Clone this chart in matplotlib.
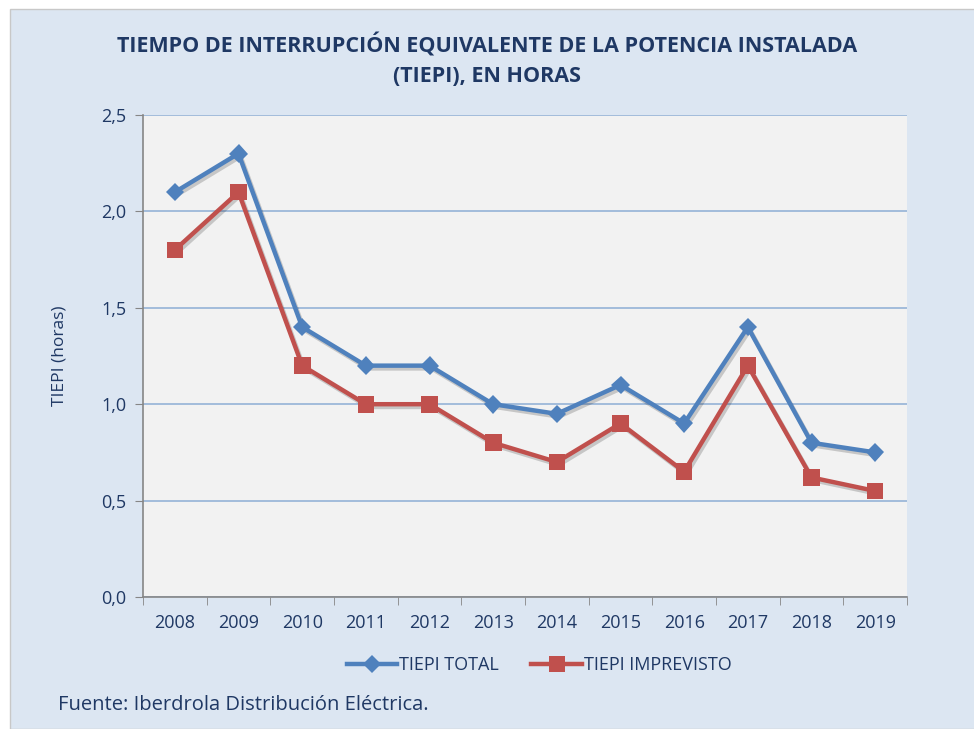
import matplotlib.pyplot as plt
import matplotlib.patheffects as pe
from matplotlib.lines import Line2D
from matplotlib.patches import Rectangle
from matplotlib.ticker import FuncFormatter, MultipleLocator

years = ['2008', '2009', '2010', '2011', '2012', '2013', '2014', '2015', '2016', '2017', '2018', '2019']
tiepi_total = [2.1, 2.3, 1.4, 1.2, 1.2, 1.0, 0.95, 1.1, 0.9, 1.4, 0.8, 0.75]
tiepi_imprevisto = [1.8, 2.1, 1.2, 1.0, 1.0, 0.8, 0.7, 0.9, 0.65, 1.2, 0.62, 0.55]

navy = '#1F3864'
blue = '#4F81BD'
red = '#C0504D'
plt.rcParams['font.family'] = ['Open Sans', 'DejaVu Sans']

fig = plt.figure(figsize=(9.74, 7.29), dpi=100)
fig.patch.set_facecolor('white')
fig.patches.append(Rectangle((10 / 974, 0), 1.0, 1 - 9 / 729, transform=fig.transFigure,
                             facecolor='#DCE6F2', edgecolor='#C8C8C8', lw=1.0, zorder=-5))

ax = fig.add_axes([143 / 974, 1 - 597 / 729, (907 - 143) / 974, (597 - 115) / 729])
ax.set_facecolor('#F2F2F2')

x = list(range(len(years)))
shadow = [pe.SimpleLineShadow(offset=(1.5, -2), alpha=0.18, shadow_color='black'), pe.Normal()]
ax.plot(x, tiepi_total, color=blue, lw=3.2, marker='D', markersize=9.5, markeredgewidth=0,
        path_effects=shadow, zorder=4)
ax.plot(x, tiepi_imprevisto, color=red, lw=3.2, marker='s', markersize=12, markeredgewidth=0,
        path_effects=shadow, zorder=3)

ax.set_xlim(-0.5, len(years) - 0.5)
ax.set_ylim(0, 2.5)
ax.yaxis.set_major_locator(MultipleLocator(0.5))
ax.yaxis.set_major_formatter(FuncFormatter(lambda v, p: f'{v:.1f}'.replace('.', ',')))
ax.set_xticks(x)
ax.set_xticklabels(years)
ax.set_xticks([i - 0.5 for i in range(len(years) + 1)], minor=True)
ax.tick_params(axis='x', which='major', length=0, pad=12, labelsize=13, labelcolor=navy)
ax.tick_params(axis='x', which='minor', length=6, color='#868686', direction='out')
ax.tick_params(axis='y', length=6, color='#868686', labelsize=13, labelcolor=navy, pad=6)
ax.grid(axis='y', color='#95B3D7', lw=1.2)
ax.set_axisbelow(True)
for s in ['top', 'right']:
    ax.spines[s].set_visible(False)
for s in ['left', 'bottom']:
    ax.spines[s].set_color('#868686')
    ax.spines[s].set_linewidth(1.2)

ax.set_ylabel('TIEPI (horas)', color=navy, fontsize=12.5, labelpad=24)

fig.text(0.5, 1 - 60 / 729,
         'TIEMPO DE INTERRUPCIÓN EQUIVALENTE DE LA POTENCIA INSTALADA\n(TIEPI), EN HORAS',
         ha='center', va='center', fontsize=15.5, fontweight='bold', color=navy, linespacing=1.5)

handles = [Line2D([], [], color=blue, lw=3.2, marker='D', markersize=9.5, markeredgewidth=0),
           Line2D([], [], color=red, lw=3.2, marker='s', markersize=12, markeredgewidth=0)]
fig.legend(handles, ['TIEPI TOTAL', 'TIEPI IMPREVISTO'], loc='center',
           bbox_to_anchor=(539 / 974, 1 - 665 / 729), ncol=2, frameon=False,
           fontsize=13, labelcolor=navy, handlelength=2.8, columnspacing=1.8, handletextpad=0.1)

fig.text(58 / 974, 1 - 705 / 729, 'Fuente: Iberdrola Distribución Eléctrica.', ha='left', va='center',
         fontsize=14.5, color=navy)

fig.savefig('out.png', dpi=100)
